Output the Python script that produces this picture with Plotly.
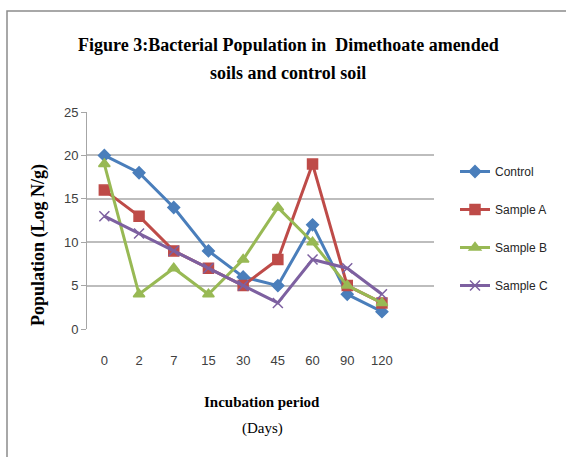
import plotly.graph_objects as go

days = ["0", "2", "7", "15", "30", "45", "60", "90", "120"]
control = [20, 18, 14, 9, 6, 5, 12, 4, 2]
sample_a = [16, 13, 9, 7, 5, 8, 19, 5, 3]
sample_b = [19, 4, 7, 4, 8, 14, 10, 5, 3]
sample_c = [13, 11, 9, 7, 5, 3, 8, 7, 4]

series = [
    ("Control", control, "#4A7EBB", "diamond", 9),
    ("Sample A", sample_a, "#BE4B48", "square", 10),
    ("Sample B", sample_b, "#98B954", "triangle-up", 10),
    ("Sample C", sample_c, "#7D60A0", "x-thin", 10),
]

fig = go.Figure()
for name, vals, color, sym, size in series:
    fig.add_trace(go.Scatter(
        x=days, y=vals, name=name, mode="lines+markers",
        legendgroup=name,
        line=dict(color=color, width=3),
        marker=dict(symbol=sym, size=size, color=color,
                    line=dict(color=color, width=1.5)),
    ))

L, R, T, B = 87, 132, 112, 128
W, H = 566, 457
pw, ph = W - L - R, H - T - B

def px_x(p):
    return (p - L) / pw

def px_y(p):
    return (H - B - p) / ph

serif = "Liberation Serif, Times New Roman, serif"
sans = "Liberation Sans, Arial, sans-serif"

def ann(text, x, y, size, angle=0):
    return dict(text=text, textangle=angle, x=px_x(x), y=px_y(y),
                xref="paper", yref="paper", xanchor="center",
                yanchor="middle", showarrow=False,
                font=dict(family=serif, size=size, color="black"))

fig.update_layout(
    width=W, height=H,
    margin=dict(l=L, r=R, t=T, b=B),
    paper_bgcolor="white", plot_bgcolor="white",
    showlegend=True,
    legend=dict(x=px_x(455), y=px_y(157), xanchor="left", yanchor="top",
                font=dict(family=sans, size=12, color="#262626"),
                tracegroupgap=19, bgcolor="rgba(0,0,0,0)"),
    xaxis=dict(type="category", categoryorder="array", categoryarray=days,
               range=[-0.5, 9.5], showgrid=False, showline=False,
               zeroline=False, ticks="", ticklabelstandoff=22,
               tickfont=dict(family=sans, size=13, color="#404040")),
    yaxis=dict(range=[0, 25], dtick=5, showgrid=True, gridcolor="#BDBDBD",
               gridwidth=1.5, zeroline=False, showline=True,
               linecolor="#A6A6A6", linewidth=1, ticks="outside",
               ticklen=5, tickcolor="#A6A6A6",
               tickfont=dict(family=sans, size=13, color="#404040")),
    annotations=[
        ann("<b>Figure 3:Bacterial Population in  Dimethoate amended</b>", 288, 45, 18),
        ann("<b>soils and control soil</b>", 288, 73, 18),
        ann("<b>Population (Log N/g)</b>", 38, 245, 18, -90),
        ann("<b>Incubation period</b>", 262, 402, 15),
        ann("(Days)", 262, 428, 15),
    ],
    shapes=[
        dict(type="rect", xref="paper", yref="paper",
             x0=px_x(7), y0=px_y(470), x1=px_x(580), y1=px_y(11),
             line=dict(color="#8C8C8C", width=1.5), layer="below"),
    ],
)

fig.write_html("out.html")
